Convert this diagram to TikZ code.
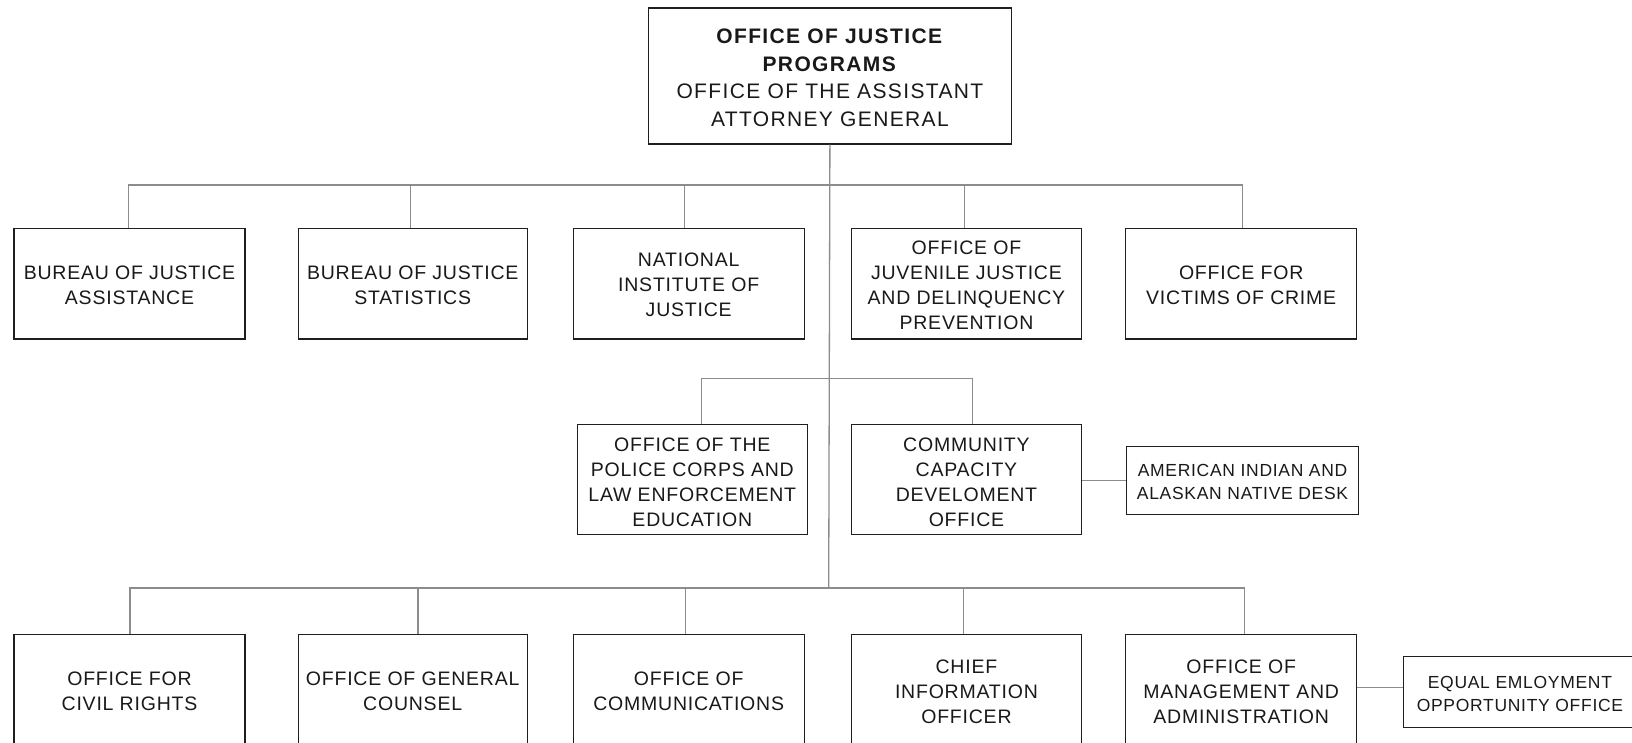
\documentclass[tikz,border=0pt]{standalone}
\usepackage{fontspec}
\setmainfont{Liberation Sans}[LetterSpace=4]
\newfontfamily\topfnt{Liberation Sans}[LetterSpace=6.5]
\newcommand\toppad[1]{\rule{0pt}{\dimexpr\fontcharht\font`O+#1\relax}}
\newcommand\Tp{\toppad{5pt}}
\newcommand\Ta{\toppad{3pt}}
\newcommand\Tc{\toppad{0pt}}
\newcommand\Ts{\toppad{3.5pt}}
\begin{document}
\begin{tikzpicture}[x=1pt,y=-1pt,
  box/.style={draw=black!88, line width=1.4pt, align=center, inner sep=0pt,
    anchor=north west, text=black!90, font=\fontsize{19.5}{25}\selectfont},
  smallbox/.style={box, font=\fontsize{17.5}{23.5}\selectfont},
  topbox/.style={box, font=\topfnt\fontsize{21}{27.5}\selectfont},
  conn/.style={draw=black!45, line width=1.3pt}]
\useasboundingbox[fill=white] (0,0) rectangle (1632,743);
% top
\node[topbox, minimum width=363pt, minimum height=136pt] (top) at (647.7,7.3)
  {\toppad{4pt}\textbf{OFFICE OF JUSTICE}\\\textbf{PROGRAMS}\\OFFICE OF THE ASSISTANT\\ATTORNEY GENERAL};
% row 1
\node[box, minimum width=231pt, minimum height=110.5pt] (bja) at (13.3,227.7) {\Ta BUREAU OF JUSTICE\\ASSISTANCE};
\node[box, minimum width=229pt, minimum height=110.5pt] (bjs) at (297.5,227.7) {\Ta BUREAU OF JUSTICE\\STATISTICS};
\node[box, minimum width=231pt, minimum height=110.5pt] (nij) at (572.5,227.7) {\Ta NATIONAL\\INSTITUTE OF\\JUSTICE};
\node[box, minimum width=230.5pt, minimum height=110.5pt] (ojj) at (850.5,227.7) {\Ta OFFICE OF\\JUVENILE JUSTICE\\AND DELINQUENCY\\PREVENTION};
\node[box, minimum width=231pt, minimum height=110.5pt] (ovc) at (1125,227.7) {\Ta OFFICE FOR\\VICTIMS OF CRIME};
% row 2
\node[box, minimum width=230pt, minimum height=110.5pt] (pol) at (576.6,423.5) {\Tp OFFICE OF THE\\POLICE CORPS AND\\LAW ENFORCEMENT\\EDUCATION};
\node[box, minimum width=230.5pt, minimum height=110.5pt] (ccd) at (850.5,423.5) {\Tp COMMUNITY\\CAPACITY\\DEVELOMENT\\OFFICE};
\node[smallbox, minimum width=232.3pt, minimum height=68.3pt] (aian) at (1125.7,445.7) {\Ts AMERICAN INDIAN AND\\ALASKAN NATIVE DESK};
% row 3
\node[box, minimum width=231pt, minimum height=115pt] (ocr) at (13.3,633.5) {\Tc OFFICE FOR\\CIVIL RIGHTS};
\node[box, minimum width=229pt, minimum height=115pt] (ogc) at (297.5,633.5) {\Tc OFFICE OF GENERAL\\COUNSEL};
\node[box, minimum width=231pt, minimum height=115pt] (oc) at (572.5,633.5) {\Tc OFFICE OF\\COMMUNICATIONS};
\node[box, minimum width=230.5pt, minimum height=115pt] (cio) at (850.5,633.5) {\Tc CHIEF\\INFORMATION\\OFFICER};
\node[box, minimum width=231pt, minimum height=115pt] (oma) at (1125,633.5) {\Tc OFFICE OF\\MANAGEMENT AND\\ADMINISTRATION};
\node[smallbox, minimum width=233pt, minimum height=71pt] (eeo) at (1402.7,656) {\Ts EQUAL EMLOYMENT\\OPPORTUNITY OFFICE};
% buses
\coordinate (bus1) at (828.7,185);
\coordinate (bus2) at (828.7,378.3);
\coordinate (bus3) at (828.7,588);
% connectors
\draw[conn] (top.south) -- (bus3);
\draw[conn] ([xshift=-1pt]bja.north) |- (bus1) -| ([xshift=1pt]ovc.north);
\draw[conn] ([xshift=-2pt]bjs.north) -- ([xshift=-2pt]bjs.north |- bus1);
\draw[conn] ([xshift=-4.2pt]nij.north) -- ([xshift=-4.2pt]nij.north |- bus1);
\draw[conn] ([xshift=-2pt]ojj.north) -- ([xshift=-2pt]ojj.north |- bus1);
\draw[conn] ([xshift=9pt]pol.north) |- (bus2) -| ([xshift=6.3pt]ccd.north);
\draw[conn] (ccd.east |- aian.west) -- (aian.west);
\draw[conn] ([xshift=0.5pt]ocr.north) |- (bus3) -| ([xshift=3.3pt]oma.north);
\draw[conn] ([xshift=5.4pt]ogc.north) -- ([xshift=5.4pt]ogc.north |- bus3);
\draw[conn] ([xshift=-3.2pt]oc.north) -- ([xshift=-3.2pt]oc.north |- bus3);
\draw[conn] ([xshift=-3pt]cio.north) -- ([xshift=-3pt]cio.north |- bus3);
\draw[conn] ([yshift=4.8pt]eeo.west) -- ([yshift=4.8pt]eeo.west -| oma.east);
\end{tikzpicture}
\end{document}
